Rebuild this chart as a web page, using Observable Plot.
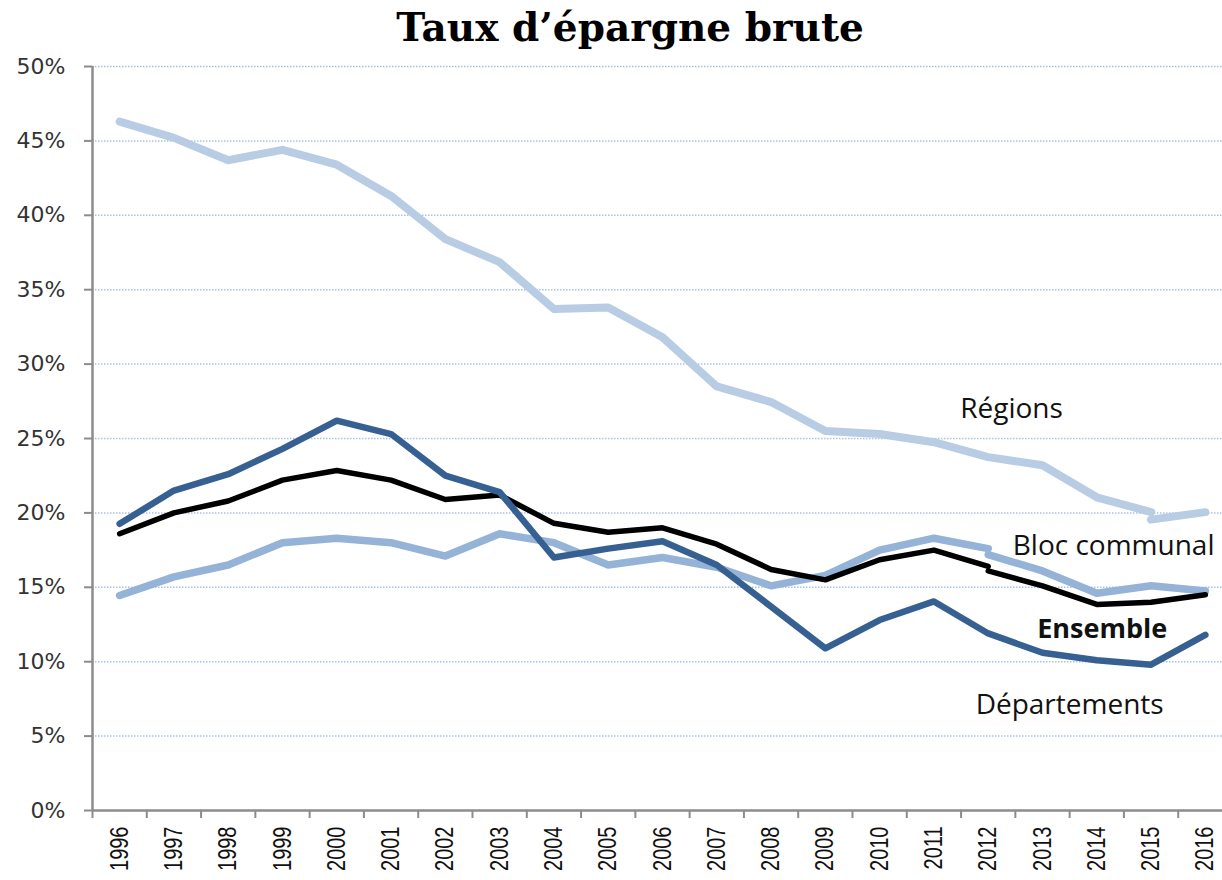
<!DOCTYPE html>
<html>
<head>
<meta charset="utf-8">
<script src="https://cdn.jsdelivr.net/npm/d3@7"></script>
<script src="https://cdn.jsdelivr.net/npm/@observablehq/plot@0.6"></script>
<style>
  html, body { margin: 0; padding: 0; background: #fff; overflow: hidden; }
  #title {
    width: 1222px; height: 50px; box-sizing: border-box;
    padding-top: 8px; padding-left: 38px;
    text-align: center; line-height: 1;
    font-family: "DejaVu Serif", serif; font-weight: bold; font-size: 39px; color: #000;
  }
  #chart svg { display: block; }
</style>
</head>
<body>
<div id="title">Taux d’épargne brute</div>
<div id="chart"></div>
<script>
// ---- Data (percent) ----
const years = [1996, 1997, 1998, 1999, 2000, 2001, 2002, 2003, 2004, 2005, 2006,
               2007, 2008, 2009, 2010, 2011, 2012, 2013, 2014, 2015, 2016];
const yTicks = [0, 5, 10, 15, 20, 25, 30, 35, 40, 45, 50];

// Régions: 1996-2015, then a new series segment 2015-2016
const regions = [46.3, 45.2, 43.7, 44.4, 43.4, 41.3, 38.4, 36.85, 33.7, 33.8, 31.8,
                 28.5, 27.45, 25.5, 25.3, 24.75, 23.75, 23.2, 21.05, 20.05];
const regionsNew = [19.55, 20.05]; // 2015-2016

// Bloc communal: 1996-2012, then new segment 2012-2016
const blocCommunal = [14.45, 15.7, 16.5, 18.0, 18.3, 18.0, 17.1, 18.6, 18.0, 16.5, 17.0,
                      16.35, 15.1, 15.8, 17.5, 18.3, 17.6];
const blocCommunalNew = [17.2, 16.1, 14.6, 15.1, 14.75]; // 2012-2016

// Ensemble: 1996-2012, then new segment 2012-2016
const ensemble = [18.6, 20.0, 20.8, 22.2, 22.85, 22.2, 20.9, 21.2, 19.3, 18.7, 19.0,
                  17.9, 16.2, 15.5, 16.85, 17.5, 16.4];
const ensembleNew = [16.1, 15.1, 13.85, 14.0, 14.5]; // 2012-2016

// Départements: 1996-2016
const departements = [19.27, 21.5, 22.6, 24.3, 26.2, 25.3, 22.5, 21.4, 17.0, 17.6, 18.1,
                      16.5, 13.7, 10.9, 12.8, 14.05, 11.9, 10.6, 10.1, 9.8, 11.8];

const seriesNames = ["Régions", "Bloc communal", "Ensemble", "Départements"];
const labelYear  = [2012.43, 2014.31, 2014.1, 2013.5];
const labelValue = [26.95, 17.8, 12.2, 7.1];

// ---- Build table ----
const rows = [];
function add(name, seg, start, vals) {
  vals.forEach((v, i) => rows.push({series: name, seg: name + "-" + seg, year: start + i, value: v}));
}
add("Régions", "a", 1996, regions);
add("Régions", "b", 2015, regionsNew);
add("Bloc communal", "a", 1996, blocCommunal);
add("Bloc communal", "b", 2012, blocCommunalNew);
add("Ensemble", "a", 1996, ensemble);
add("Ensemble", "b", 2012, ensembleNew);
add("Départements", "a", 1996, departements);

const styles = {
  "Régions":       {stroke: "#b8cce4", width: 8},
  "Bloc communal": {stroke: "#95b3d7", width: 7.5},
  "Ensemble":      {stroke: "#000000", width: 5.5},
  "Départements":  {stroke: "#376092", width: 6.5}
};
const drawOrder = ["Régions", "Bloc communal", "Ensemble", "Départements"];

const boundaries = [years[0] - 0.5, ...years.map(y => y + 0.5)];
const labels = seriesNames.map((s, i) => ({series: s, year: labelYear[i], value: labelValue[i]}));

const axisGray = "#8c8c8c";

const chart = Plot.plot({
  width: 1222,
  height: 830,
  marginLeft: 92,
  marginRight: 0,
  marginTop: 16,
  marginBottom: 70,
  x: {type: "linear", domain: [1995.5, 2016.5], range: [92, 1232]},
  y: {domain: [0, 50]},
  marks: [
    Plot.ruleY(yTicks.filter(d => d > 0), {stroke: "#a9c1e2", strokeWidth: 1.5, strokeDasharray: "1.5,1.5"}),
    Plot.axisY({
      ticks: yTicks, tickSize: 8, tickPadding: 19, tickFormat: d => d + "%",
      fontSize: 22, fontFamily: "DejaVu Sans", fill: "#333",
      stroke: axisGray, strokeWidth: 2, label: null
    }),
    Plot.axisX({
      ticks: boundaries, tickSize: 8, tickFormat: () => "",
      stroke: axisGray, strokeWidth: 2, label: null
    }),
    Plot.ruleY([0], {stroke: axisGray, strokeWidth: 2.5}),
    Plot.ruleX([1995.5], {y1: 0, y2: 50, stroke: axisGray, strokeWidth: 2.5}),
    Plot.text(years, {
      x: d => d, y: 0, text: d => String(d), rotate: -90,
      textAnchor: "end", lineAnchor: "middle", dy: 16,
      fontSize: 20, fontFamily: "Liberation Sans", fill: "#111",
      className: "yearlbl"
    }),
    ...drawOrder.map(s => Plot.line(rows.filter(r => r.series === s), {
      x: "year", y: "value", z: "seg",
      stroke: styles[s].stroke, strokeWidth: styles[s].width,
      strokeLinejoin: "round", strokeLinecap: "round"
    })),
    Plot.text(labels.filter(d => d.series !== "Ensemble"), {
      x: "year", y: "value", text: "series",
      textAnchor: "middle", lineAnchor: "middle",
      fontSize: 28, fontFamily: "Open Sans", fill: "#111"
    }),
    Plot.text(labels.filter(d => d.series === "Ensemble"), {
      x: "year", y: "value", text: "series",
      textAnchor: "middle", lineAnchor: "middle",
      fontSize: 27, fontFamily: "Open Sans", fontWeight: "bold", fill: "#111"
    })
  ]
});
// widen the rotated year labels slightly (the reference glyphs are horizontally stretched)
d3.select(chart).selectAll(".yearlbl text").attr("transform", function () {
  return (this.getAttribute("transform") || "") + " scale(1,1.25)";
});
document.getElementById("chart").appendChild(chart);
</script>
</body>
</html>
